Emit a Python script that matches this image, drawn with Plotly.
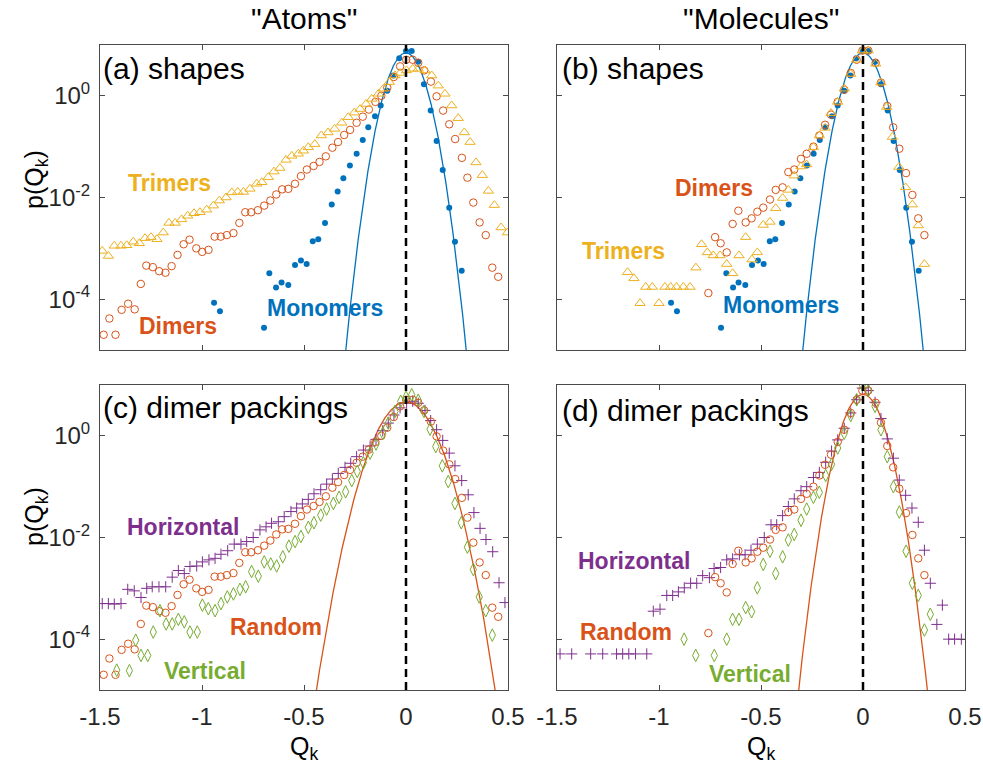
import numpy as np
import plotly.graph_objects as go

W, H = 983, 777

# ---------------- data: bin centres Q_k and log10 p(Q_k) ----------------
# Monomers (identical for "Atoms" and "Molecules")
monomer_q = [-0.941, -0.912, -0.696, -0.670, -0.637, -0.610, -0.577, -0.544, -0.515, -0.487,
             -0.457, -0.430, -0.397, -0.364, -0.335, -0.307, -0.275, -0.242, -0.212, -0.185,
             -0.152, -0.124, -0.092, -0.062, -0.033, 0.000, 0.028, 0.060, 0.088, 0.121,
             0.150, 0.180, 0.212, 0.240, 0.273]
monomer_logp = [-4.07, -4.24, -4.56, -3.49, -3.77, -3.67, -3.72, -3.33, -3.24, -3.31,
                -2.86, -2.82, -2.50, -2.14, -1.88, -1.62, -1.37, -1.14, -0.87, -0.62,
                -0.40, -0.19, 0.10, 0.40, 0.74, 0.88, 0.88, 0.67, 0.23, -0.29,
                -0.89, -1.46, -2.20, -2.87, -3.44]

# "Atoms": dimers (random packing) and trimers
atom_dimer_q = [-1.482, -1.454, -1.424, -1.394, -1.362, -1.330, -1.300, -1.273, -1.241, -1.210,
                -1.179, -1.149, -1.120, -1.090, -1.061, -1.028, -0.999, -0.968, -0.938, -0.908,
                -0.878, -0.846, -0.817, -0.788, -0.759, -0.726, -0.695, -0.665, -0.636, -0.607,
                -0.577, -0.544, -0.515, -0.486, -0.453, -0.424, -0.393, -0.361, -0.333, -0.303,
                -0.274, -0.242, -0.212, -0.182, -0.150, -0.121, -0.092, -0.060, -0.029, 0.001,
                0.033, 0.060, 0.089, 0.122, 0.150, 0.182, 0.212, 0.241, 0.274, 0.301,
                0.330, 0.361, 0.391, 0.423, 0.452]
atom_dimer_logp = [-4.70, -4.38, -4.70, -4.21, -4.09, -4.20, -3.70, -3.34, -3.37, -3.45,
                   -3.48, -3.35, -3.13, -2.92, -2.83, -3.00, -3.07, -3.03, -2.77, -2.77,
                   -2.74, -2.70, -2.50, -2.29, -2.29, -2.25, -2.16, -2.06, -1.94, -1.84,
                   -1.83, -1.73, -1.58, -1.45, -1.38, -1.30, -1.19, -1.02, -0.91, -0.77,
                   -0.67, -0.53, -0.41, -0.27, -0.12, 0.00, 0.16, 0.37, 0.58, 0.71,
                   0.71, 0.65, 0.50, 0.28, -0.01, -0.29, -0.56, -0.85, -1.22, -1.61,
                   -2.10, -2.49, -2.74, -3.38, -3.56]

atom_trimer_q = [-1.489, -1.459, -1.430, -1.397, -1.369, -1.337, -1.307, -1.279, -1.250, -1.221,
                 -1.190, -1.162, -1.132, -1.100, -1.070, -1.039, -1.010, -0.977, -0.944, -0.915,
                 -0.882, -0.854, -0.825, -0.797, -0.765, -0.732, -0.707, -0.675, -0.647, -0.618,
                 -0.588, -0.560, -0.528, -0.503, -0.479, -0.447, -0.415, -0.382, -0.350, -0.315,
                 -0.283, -0.253, -0.225, -0.196, -0.168, -0.135, -0.111, -0.082, -0.054, -0.029,
                 0.003, 0.033, 0.060, 0.093, 0.126, 0.158, 0.191, 0.224, 0.256, 0.286,
                 0.314, 0.343, 0.374, 0.404, 0.433, 0.466, 0.497]
atom_trimer_logp = [-3.05, -3.15, -2.95, -2.95, -2.94, -2.87, -2.90, -2.80, -2.78, -2.82,
                    -2.69, -2.50, -2.50, -2.43, -2.36, -2.31, -2.29, -2.24, -2.16, -2.06,
                    -2.00, -1.90, -1.89, -1.89, -1.83, -1.73, -1.70, -1.60, -1.49, -1.42,
                    -1.26, -1.18, -1.14, -1.08, -1.01, -0.95, -0.78, -0.72, -0.65, -0.53,
                    -0.42, -0.33, -0.26, -0.16, -0.06, 0.04, 0.14, 0.27, 0.40, 0.45,
                    0.50, 0.53, 0.53, 0.50, 0.40, 0.20, 0.04, -0.19, -0.44, -0.72,
                    -0.91, -1.31, -1.56, -1.87, -2.15, -2.59, -2.69]

# "Molecules": dimers (random packing) and trimers
mol_dimer_q = [-0.758, -0.725, -0.698, -0.668, -0.639, -0.611, -0.575, -0.546, -0.518, -0.489,
               -0.456, -0.428, -0.394, -0.366, -0.337, -0.304, -0.276, -0.243, -0.214, -0.186,
               -0.157, -0.124, -0.092, -0.060, -0.031, -0.003, 0.026, 0.062, 0.088, 0.119,
               0.148, 0.178, 0.211, 0.242, 0.271, 0.301]
mol_dimer_logp = [-3.88, -2.78, -2.90, -3.08, -2.52, -2.26, -2.49, -2.41, -2.28, -2.20,
                  -2.04, -1.85, -1.80, -1.50, -1.45, -1.24, -1.14, -1.00, -0.78, -0.57,
                  -0.37, -0.12, 0.12, 0.45, 0.71, 0.89, 0.89, 0.65, 0.26, -0.20,
                  -0.62, -1.04, -1.52, -1.95, -2.41, -2.74]

mol_trimer_q = [-1.154, -1.123, -1.093, -1.065, -1.033, -1.000, -0.971, -0.943, -0.914, -0.881,
                -0.848, -0.819, -0.791, -0.763, -0.734, -0.701, -0.668, -0.639, -0.608, -0.575,
                -0.544, -0.518, -0.489, -0.456, -0.428, -0.394, -0.366, -0.337, -0.304, -0.276,
                -0.243, -0.214, -0.186, -0.157, -0.124, -0.092, -0.060, -0.031, -0.003, 0.026,
                0.062, 0.088, 0.116, 0.144, 0.176, 0.209, 0.242, 0.271, 0.301]
mol_trimer_logp = [-3.47, -3.59, -4.08, -3.76, -3.76, -4.08, -3.76, -3.76, -3.76, -3.76,
                   -3.76, -3.38, -2.92, -3.08, -3.14, -3.14, -3.31, -3.49, -3.14, -2.78,
                   -3.22, -3.08, -2.54, -2.48, -2.21, -2.01, -1.85, -1.57, -1.39, -1.35,
                   -1.01, -0.78, -0.63, -0.34, -0.12, 0.14, 0.43, 0.71, 0.89, 0.89,
                   0.63, 0.26, -0.22, -0.81, -1.40, -1.80, -2.14, -2.55, -3.31]

# Dimer packings, "Atoms"
atom_horiz_q = [-1.489, -1.459, -1.430, -1.397, -1.364, -1.332, -1.299, -1.271, -1.244, -1.211,
                -1.178, -1.146, -1.116, -1.087, -1.059, -1.026, -0.998, -0.966, -0.936, -0.907,
                -0.874, -0.842, -0.809, -0.781, -0.749, -0.716, -0.686, -0.659, -0.626, -0.597,
                -0.564, -0.536, -0.508, -0.479, -0.451, -0.418, -0.389, -0.361, -0.332, -0.299,
                -0.271, -0.242, -0.209, -0.176, -0.147, -0.114, -0.087, -0.059, -0.029, 0.003,
                0.033, 0.060, 0.093, 0.121, 0.150, 0.180, 0.212, 0.240, 0.273, 0.305,
                0.333, 0.363, 0.392, 0.425, 0.456, 0.485]
atom_horiz_logp = [-3.30, -3.30, -3.31, -3.30, -3.02, -3.05, -3.18, -3.00, -2.97, -2.97,
                   -2.97, -2.78, -2.65, -2.71, -2.57, -2.56, -2.48, -2.44, -2.41, -2.33,
                   -2.26, -2.13, -2.13, -2.08, -2.00, -1.85, -1.79, -1.72, -1.69, -1.59,
                   -1.49, -1.42, -1.34, -1.25, -1.14, -1.06, -0.95, -0.85, -0.74, -0.62,
                   -0.54, -0.41, -0.28, -0.20, -0.07, 0.10, 0.25, 0.41, 0.55, 0.64,
                   0.68, 0.64, 0.50, 0.30, 0.12, -0.09, -0.34, -0.59, -0.88, -1.16,
                   -1.51, -1.82, -2.04, -2.28, -2.89, -3.28]

atom_vert_q = [-1.418, -1.356, -1.325, -1.299, -1.266, -1.239, -1.206, -1.176, -1.146, -1.116,
               -1.087, -1.059, -1.023, -0.998, -0.969, -0.936, -0.907, -0.876, -0.846, -0.814,
               -0.786, -0.757, -0.724, -0.695, -0.663, -0.634, -0.604, -0.574, -0.544, -0.515,
               -0.479, -0.451, -0.418, -0.389, -0.356, -0.328, -0.296, -0.266, -0.239, -0.209,
               -0.176, -0.147, -0.114, -0.087, -0.054, -0.026, 0.000, 0.028, 0.060, 0.088,
               0.118, 0.146, 0.178, 0.207, 0.240, 0.271, 0.301, 0.330, 0.359, 0.391,
               0.423]
atom_vert_logp = [-4.61, -4.62, -4.02, -4.32, -4.32, -3.86, -3.44, -3.70, -3.70, -3.61,
                  -3.66, -3.86, -3.86, -3.33, -3.40, -3.44, -3.30, -3.17, -3.11, -3.02,
                  -2.97, -2.67, -2.76, -2.48, -2.52, -2.56, -2.38, -2.17, -2.08, -1.98,
                  -1.80, -1.71, -1.56, -1.44, -1.33, -1.21, -1.10, -0.88, -0.70, -0.53,
                  -0.34, -0.16, 0.05, 0.25, 0.48, 0.68, 0.76, 0.81, 0.70, 0.48,
                  0.13, -0.21, -0.59, -0.90, -1.33, -1.71, -2.19, -2.63, -3.17, -3.44,
                  -3.92]

# Dimer packings, "Molecules"
mol_horiz_q = [-1.485, -1.428, -1.335, -1.276, -1.208, -1.178, -1.148, -1.115, -1.060, -1.028,
               -0.995, -0.962, -0.933, -0.905, -0.876, -0.845, -0.815, -0.786, -0.753, -0.730,
               -0.698, -0.668, -0.639, -0.606, -0.578, -0.549, -0.518, -0.484, -0.451, -0.423,
               -0.394, -0.366, -0.337, -0.304, -0.276, -0.243, -0.214, -0.183, -0.154, -0.124,
               -0.092, -0.060, -0.031, -0.003, 0.026, 0.059, 0.088, 0.119, 0.149, 0.178,
               0.209, 0.240, 0.271, 0.301, 0.330, 0.362, 0.389, 0.420, 0.449, 0.482]
mol_horiz_logp = [-4.29, -4.29, -4.29, -4.29, -4.29, -4.29, -4.29, -4.29, -4.29, -3.45,
                  -3.41, -3.14, -3.14, -3.07, -2.99, -2.90, -2.90, -2.75, -2.79, -2.61,
                  -2.59, -2.44, -2.42, -2.34, -2.34, -2.25, -2.13, -2.00, -1.75, -1.75,
                  -1.57, -1.39, -1.24, -1.08, -1.00, -0.82, -0.72, -0.52, -0.30, -0.08,
                  0.15, 0.45, 0.71, 0.94, 0.89, 0.66, 0.34, -0.06, -0.44, -0.87,
                  -1.17, -1.42, -1.70, -2.25, -2.90, -3.71, -3.33, -4.00, -4.00, -4.00]

mol_vert_q = [-0.877, -0.820, -0.729, -0.668, -0.639, -0.608, -0.575, -0.546, -0.518, -0.489,
              -0.456, -0.428, -0.394, -0.366, -0.337, -0.304, -0.276, -0.243, -0.214, -0.183,
              -0.154, -0.124, -0.092, -0.060, -0.031, -0.003, 0.026, 0.059, 0.088, 0.119,
              0.149, 0.178, 0.211, 0.242, 0.271, 0.301, 0.330]
mol_vert_logp = [-4.00, -4.32, -4.32, -4.00, -3.61, -3.61, -3.38, -3.46, -2.99, -2.53,
                 -2.27, -2.71, -2.38, -2.05, -1.94, -1.66, -1.44, -1.21, -1.11, -0.78,
                 -0.56, -0.24, 0.05, 0.40, 0.71, 1.00, 0.89, 0.58, 0.12, -0.41,
                 -1.00, -1.50, -2.27, -2.90, -3.14, -3.82, -3.51]

# Gaussian reference widths (zero mean, unit area)
sigma_monomer = 0.057
sigma_atom_random = 0.086
sigma_mol_random = 0.061

x_ticks = [-1.5, -1, -0.5, 0, 0.5]
x_tick_text = ["-1.5", "-1", "-0.5", "0", "0.5"]
y_ticks = [1e-4, 1e-2, 1]
y_tick_text = ["10<sup>-4</sup>", "10<sup>-2</sup>", "10<sup>0</sup>"]

# ---------------- styling ----------------
BLUE, RED, YELLOW = "#0072BD", "#D95319", "#EDB120"
PURPLE, GREEN = "#7E2F8E", "#77AC30"
AXIS = "#4a4a4a"
FONT = "Arial, Liberation Sans, sans-serif"


def to_p(vals):
    return [10 ** v for v in vals]


def gaussian(sigma):
    q = np.linspace(-0.6, 0.6, 1201)
    p = np.exp(-q ** 2 / (2 * sigma ** 2)) / (sigma * np.sqrt(2 * np.pi))
    keep = p > 1e-6
    return q[keep], p[keep]


fig = go.Figure()


def add_markers(q, logp, ax, symbol, color, size, filled=False):
    xa, ya = ax
    marker = dict(symbol=symbol, size=size, color=color,
                  line=dict(color=color, width=1 if not filled else 0))
    fig.add_trace(go.Scatter(x=q, y=to_p(logp), mode="markers", marker=marker,
                             xaxis=xa, yaxis=ya, showlegend=False, hoverinfo="skip"))


def add_gauss(sigma, ax, color):
    xa, ya = ax
    q, p = gaussian(sigma)
    fig.add_trace(go.Scatter(x=q, y=p, mode="lines", line=dict(color=color, width=1.3),
                             xaxis=xa, yaxis=ya, showlegend=False, hoverinfo="skip"))


A, B, C, D = ("x", "y"), ("x2", "y2"), ("x3", "y3"), ("x4", "y4")

# (a) shapes, atoms
add_gauss(sigma_monomer, A, BLUE)
add_markers(monomer_q, monomer_logp, A, "circle", BLUE, 6, filled=True)
add_markers(atom_dimer_q, atom_dimer_logp, A, "circle-open", RED, 7.5)
add_markers(atom_trimer_q, atom_trimer_logp, A, "triangle-up-open", YELLOW, 9)
# (b) shapes, molecules
add_gauss(sigma_monomer, B, BLUE)
add_markers(monomer_q, monomer_logp, B, "circle", BLUE, 6, filled=True)
add_markers(mol_dimer_q, mol_dimer_logp, B, "circle-open", RED, 7.5)
add_markers(mol_trimer_q, mol_trimer_logp, B, "triangle-up-open", YELLOW, 9)
# (c) dimer packings, atoms
add_gauss(sigma_atom_random, C, RED)
add_markers(atom_horiz_q, atom_horiz_logp, C, "cross-thin-open", PURPLE, 8)
add_markers(atom_dimer_q, atom_dimer_logp, C, "circle-open", RED, 7.5)
add_markers(atom_vert_q, atom_vert_logp, C, "diamond-tall-open", GREEN, 9)
# (d) dimer packings, molecules
add_gauss(sigma_mol_random, D, RED)
add_markers(mol_horiz_q, mol_horiz_logp, D, "cross-thin-open", PURPLE, 8)
add_markers(mol_dimer_q, mol_dimer_logp, D, "circle-open", RED, 7.5)
add_markers(mol_vert_q, mol_vert_logp, D, "diamond-tall-open", GREEN, 9)

# ---------------- axes ----------------
col_dom = [[100 / W, 508 / W], [557 / W, 965 / W]]
row_dom = [[1 - 350 / H, 1 - 45 / H], [1 - 690 / H, 1 - 385 / H]]

tick_font = dict(family=FONT, size=24, color="#262626")
for i, (xa, ya) in enumerate([A, B, C, D]):
    col, row = i % 2, i // 2
    xkey = "xaxis" + ("" if i == 0 else str(i + 1))
    ykey = "yaxis" + ("" if i == 0 else str(i + 1))
    fig.update_layout({
        xkey: dict(domain=col_dom[col], anchor=ya, range=[-1.5, 0.5],
                   tickvals=x_ticks, ticktext=x_tick_text, automargin=False,
                   showticklabels=(row == 1), ticks="inside", ticklen=5,
                   tickcolor=AXIS, showline=True, linecolor=AXIS, linewidth=1,
                   mirror="ticks", showgrid=False, zeroline=False,
                   tickfont=tick_font, ticklabelstandoff=5),
        ykey: dict(domain=row_dom[row], anchor=xa, type="log", range=[-5, 1],
                   tickvals=y_ticks, ticktext=y_tick_text, automargin=False,
                   showticklabels=(col == 0), ticks="inside", ticklen=5,
                   tickcolor=AXIS, showline=True, linecolor=AXIS, linewidth=1,
                   mirror="ticks", showgrid=False, zeroline=False,
                   tickfont=tick_font, ticklabelstandoff=4),
    })

# dashed reference line at Q_k = 0
for xa, ya in [A, B, C, D]:
    fig.add_shape(type="line", xref=xa, yref=ya + " domain", x0=0, x1=0, y0=0, y1=1,
                  line=dict(color="black", width=2.5, dash="8px,5px"), layer="above")

# ---------------- text ----------------
def px(x):
    return x / W


def py(y):
    return 1 - y / H


def note(text, x, y, color="black", size=22, bold=False, xanchor="center", angle=0):
    if bold:
        text = "<b>" + text + "</b>"
    fig.add_annotation(text=text, x=px(x), y=py(y), xref="paper", yref="paper",
                       xanchor=xanchor, yanchor="middle", showarrow=False,
                       textangle=angle, font=dict(family=FONT, size=size, color=color))


note('"Atoms"', 304, 19, size=30)
note('"Molecules"', 761, 19, size=30)
note("(a) shapes", 101, 68, size=30, xanchor="left")
note("(b) shapes", 560, 68, size=30, xanchor="left")
note("(c) dimer packings", 101, 408, size=30, xanchor="left")
note("(d) dimer packings", 560, 410, size=30, xanchor="left")

note("Trimers", 169, 183, YELLOW, 23, True)
note("Dimers", 178, 326, RED, 23, True)
note("Monomers", 325, 308, BLUE, 23, True)
note("Dimers", 714, 188, RED, 23, True)
note("Trimers", 623, 251, YELLOW, 23, True)
note("Monomers", 781, 305, BLUE, 23, True)
note("Horizontal", 183, 527, PURPLE, 23, True)
note("Random", 276, 627, RED, 23, True)
note("Vertical", 205, 671, GREEN, 23, True)
note("Horizontal", 634, 561, PURPLE, 23, True)
note("Random", 626, 632, RED, 23, True)
note("Vertical", 750, 674, GREEN, 23, True)

note("p(Q<sub>k</sub>)", 36, 180, size=25, angle=-90)
note("p(Q<sub>k</sub>)", 36, 517, size=25, angle=-90)
note("Q<sub>k</sub>", 304, 748, size=25)
note("Q<sub>k</sub>", 761, 748, size=25)

fig.update_layout(width=W, height=H, margin=dict(l=0, r=0, t=0, b=0),
                  paper_bgcolor="white", plot_bgcolor="white",
                  font=dict(family=FONT, color="#262626"))

fig.write_html("out.html")
